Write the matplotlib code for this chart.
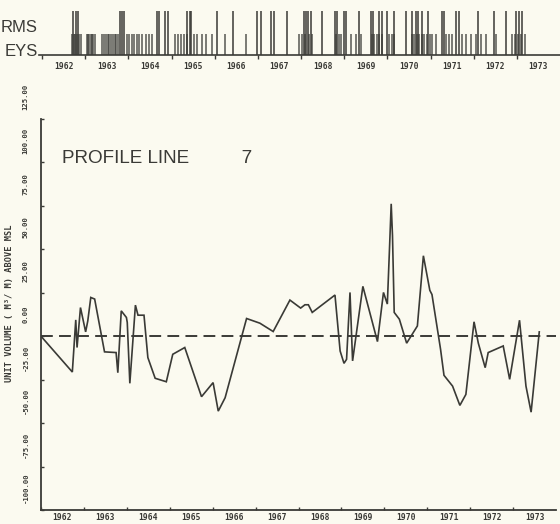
import matplotlib
matplotlib.use("Agg")
import matplotlib.pyplot as plt
from matplotlib.transforms import ScaledTranslation

# ---------------- data ----------------
profile_years = [1962.00, 1962.73, 1962.81, 1962.84, 1962.92, 1963.04, 1963.09, 1963.16,
                 1963.25, 1963.48, 1963.75, 1963.79, 1963.87, 1963.99, 1964.01, 1964.07,
                 1964.20, 1964.26, 1964.40, 1964.49, 1964.66, 1964.92, 1965.07, 1965.35,
                 1965.74, 1966.01, 1966.13, 1966.29, 1966.79, 1967.10, 1967.41, 1967.80,
                 1968.05, 1968.15, 1968.23, 1968.32, 1968.85, 1968.97, 1969.06, 1969.12,
                 1969.20, 1969.26, 1969.50, 1969.84, 1969.98, 1970.07, 1970.12, 1970.16,
                 1970.19, 1970.23, 1970.35, 1970.52, 1970.77, 1970.91, 1971.06, 1971.11,
                 1971.31, 1971.39, 1971.59, 1971.76, 1971.90, 1972.09, 1972.19, 1972.35,
                 1972.42, 1972.77, 1972.92, 1973.15, 1973.30, 1973.42, 1973.61]
unit_volume = [0.0, -20.6, 9.4, -6.5, 16.5, 2.5, 8.8, 22.3,
               21.4, -9.0, -9.4, -21.0, 14.6, 10.8, 7.9, -27.1,
               17.9, 12.1, 12.1, -12.3, -24.2, -26.2, -10.4, -6.5,
               -34.8, -26.7, -43.1, -35.4, 10.2, 7.5, 2.7, 20.8,
               16.2, 18.1, 18.1, 13.7, 23.7, -8.5, -15.6, -13.3,
               25.2, -14.2, 28.7, -3.1, 25.2, 18.5, 50.2, 76.2,
               57.9, 13.7, 9.8, -4.0, 5.9, 46.3, 26.4, 24.0,
               -7.5, -22.5, -28.7, -39.8, -33.5, 8.3, -4.0, -18.1,
               -9.4, -5.6, -24.8, 9.2, -28.7, -43.7, 2.5]

storm_years = [1962.72, 1962.79, 1962.83, 1963.80, 1963.85, 1963.89, 1964.66, 1964.70,
               1964.84, 1964.91, 1965.37, 1965.42, 1965.46, 1966.06, 1966.43, 1966.99,
               1967.08, 1967.31, 1967.38, 1967.68, 1968.07, 1968.12, 1968.17, 1968.24,
               1968.49, 1968.79, 1968.84, 1969.00, 1969.04, 1969.34, 1969.62, 1969.67,
               1969.81, 1969.88, 1969.99, 1970.15, 1970.43, 1970.57, 1970.66, 1970.71,
               1970.80, 1970.94, 1971.26, 1971.31, 1971.58, 1971.65, 1972.11, 1972.48,
               1972.74, 1972.97, 1973.04, 1973.11]
survey_years = [1962.70, 1962.74, 1962.77, 1962.81, 1962.86, 1962.90,
                1963.04, 1963.07, 1963.10, 1963.13, 1963.16, 1963.19, 1963.22,
                1963.39, 1963.44, 1963.48, 1963.52, 1963.56, 1963.60, 1963.64, 1963.68,
                1963.72, 1963.76, 1963.96, 1964.02, 1964.08, 1964.13, 1964.19, 1964.25,
                1964.32, 1964.40, 1964.47, 1964.54, 1965.07, 1965.14, 1965.21, 1965.28,
                1965.35, 1965.53, 1965.60, 1965.70, 1965.80, 1965.93, 1966.23, 1966.73,
                1967.96, 1968.02, 1968.10, 1968.18, 1968.26, 1968.81, 1968.87, 1968.93,
                1969.16, 1969.27, 1969.39, 1969.64, 1969.70, 1969.76, 1969.81, 1969.88,
                1970.04, 1970.10, 1970.15, 1970.57, 1970.62, 1970.68, 1970.74, 1970.80,
                1970.86, 1970.92, 1970.98, 1971.04, 1971.12, 1971.35, 1971.42, 1971.49,
                1971.72, 1971.82, 1971.93, 1972.05, 1972.18, 1972.28, 1972.51,
                1972.88, 1972.95, 1973.02, 1973.10, 1973.20]

year_labels = ["1962", "1963", "1964", "1965", "1966", "1967", "1968", "1969",
               "1970", "1971", "1972", "1973"]
year_starts = [1962, 1963, 1964, 1965, 1966, 1967, 1968, 1969, 1970, 1971, 1972, 1973]
year_mids = [1962.5, 1963.5, 1964.5, 1965.5, 1966.5, 1967.5, 1968.5, 1969.5,
             1970.5, 1971.5, 1972.5, 1973.5]
y_ticks = [-100, -75, -50, -25, 0, 25, 50, 75, 100, 125]
y_tick_labels = ["-100.00", "-75.00", "-50.00", "-25.00", "0.00", "25.00", "50.00",
                 "75.00", "100.00", "125.00"]

# ---------------- style ----------------
BG = "#fbfaf0"
INK = "#3a3a36"
plt.rcParams["lines.scale_dashes"] = False
W, H = 560, 524
fig = plt.figure(figsize=(W / 100, H / 100), dpi=100, facecolor=BG)

def fx(px):
    return px / W

def fy(py):
    return 1 - py / H

# ---------------- main panel ----------------
ax = fig.add_axes([fx(41), fy(510), fx(556) - fx(41), fy(119) - fy(510)])
ax.set_facecolor(BG)
ax.set_xlim(1962, 1974)
ax.set_ylim(-100, 125)
for s in ["top", "right"]:
    ax.spines[s].set_visible(False)
for s in ["left", "bottom"]:
    ax.spines[s].set_color(INK)
    ax.spines[s].set_linewidth(1.3)

ax.axhline(0, color=INK, lw=1.4, linestyle=(0, (8.5, 4.5)))
ax.plot(profile_years, unit_volume, color=INK, lw=1.2, solid_joinstyle="miter")

ax.set_yticks(y_ticks)
ax.set_yticklabels(y_tick_labels, rotation=90, family="DejaVu Sans Mono",
                   fontsize=5.2, fontweight="bold", color=INK, va="center")
ax.tick_params(axis="y", direction="in", length=2.5, width=1, color=INK, pad=9)
for lab in ax.get_yticklabels():
    lab.set_transform(lab.get_transform() + ScaledTranslation(0, 0.22, fig.dpi_scale_trans))

ax.set_xticks(year_starts)
ax.set_xticklabels([])
ax.set_xticks(year_mids, minor=True)
ax.set_xticklabels(year_labels, minor=True, family="DejaVu Sans Mono", fontsize=5.8,
                   fontweight="bold", color=INK)
ax.tick_params(axis="x", which="major", direction="in", length=2.5, width=1, color=INK)
ax.tick_params(axis="x", which="minor", length=0, pad=2.5)

ax.set_ylabel("UNIT VOLUME ( M³/ M) ABOVE MSL", family="DejaVu Sans Mono",
              fontsize=6.2, fontweight="bold", color=INK)
ax.yaxis.set_label_coords(-0.052, 0.53)

ax.text(1962.49, 102, "PROFILE LINE" + " " * 10 + "7", family="Liberation Sans",
        fontsize=13.6, color=INK, va="center", ha="left")

# ---------------- top panel (storms / surveys) ----------------
tx = fig.add_axes([fx(42), fy(55), fx(560) - fx(42), fy(11) - fy(55)])
tx.set_facecolor("none")
tx.set_xlim(1962, 1974)
tx.set_ylim(0, 1)
for s in ["top", "right", "left"]:
    tx.spines[s].set_visible(False)
tx.spines["bottom"].set_color(INK)
tx.spines["bottom"].set_linewidth(1.2)
tx.spines["bottom"].set_bounds(1961.92, 1974)
tx.vlines(storm_years, 0, 1.0, color=INK, lw=1.1)
tx.vlines(survey_years, 0, 0.48, color=INK, lw=1.1, alpha=0.85)
tx.set_yticks([])
tx.set_xticks(year_starts)
tx.set_xticklabels([])
tx.set_xticks(year_mids, minor=True)
tx.set_xticklabels(year_labels, minor=True, family="DejaVu Sans Mono", fontsize=5.8,
                   fontweight="bold", color=INK)
tx.tick_params(axis="x", which="major", direction="out", length=3, width=1, color=INK)
tx.tick_params(axis="x", which="minor", length=0, pad=5)

# the scan shows only the right-hand ends of the two row captions
fig.text(fx(38), fy(27), "RMS", family="Liberation Sans", fontsize=12,
         color=INK, ha="right", va="center")
fig.text(fx(38), fy(52), "EYS", family="Liberation Sans", fontsize=12,
         color=INK, ha="right", va="center")

fig.savefig("out.png", dpi=100, facecolor=BG)
